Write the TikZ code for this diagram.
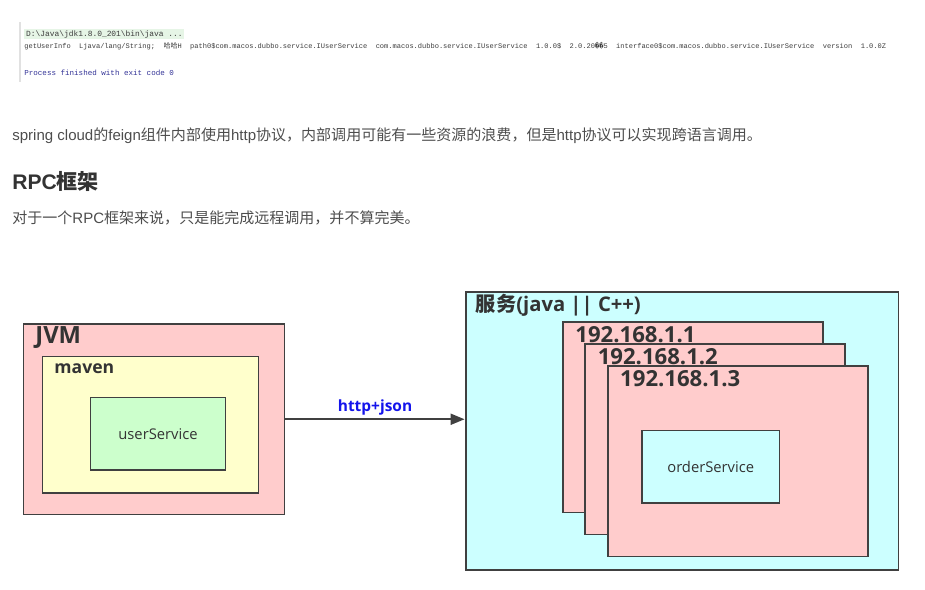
\documentclass[tikz,border=0pt]{standalone}
\usepackage{fontspec}
\setmainfont{Open Sans}
\newfontfamily\cjk{Noto Sans CJK SC}
\newfontfamily\arial{Liberation Sans}
\newfontfamily\cons{Liberation Mono}
\newfontfamily\dvmono{DejaVu Sans Mono}
\newcommand{\zh}[1]{{\cjk #1}}
\usetikzlibrary{positioning,arrows.meta,calc}

\definecolor{boxline}{RGB}{64,64,64}
\definecolor{jvmfill}{RGB}{255,204,204}
\definecolor{mavenfill}{RGB}{255,255,204}
\definecolor{userfill}{RGB}{204,255,204}
\definecolor{svcfill}{RGB}{204,255,255}
\definecolor{labeltext}{RGB}{51,51,51}
\definecolor{linkblue}{RGB}{20,20,235}
\definecolor{bodytext}{RGB}{77,77,77}
\definecolor{consbg}{RGB}{230,245,230}
\definecolor{constext}{RGB}{60,60,60}
\definecolor{procblue}{RGB}{50,50,150}
\definecolor{consrule}{RGB}{225,225,225}

\begin{document}
\begin{tikzpicture}[
  x=0.02cm, y=-0.02cm,
  arr/.style={-{Triangle[length=2.8mm,width=2.2mm]}, line width=1.1pt, draw=boxline},
  box/.style={draw=boxline, line width=1.1pt, inner sep=0pt},
  lbl/.style={font=\bfseries\fontsize{12}{14}\selectfont, text=labeltext, inner sep=0pt, anchor=west},
  svctext/.style={font=\fontsize{8.4}{10}\selectfont, text=labeltext},
  conline/.style={font=\cons\fontsize{4.0}{5}\selectfont, text=constext, inner sep=0pt, anchor=west},
  para/.style={font=\arial\fontsize{8.55}{10}\selectfont, text=bodytext, inner sep=0pt, anchor=west}
]
\useasboundingbox (0,0) rectangle (925,589);

% console output
\draw[consrule, line width=0.6pt] (20,22) -- (20,82);
\node[conline, font=\cons\fontsize{4.5}{5}\selectfont, fill=consbg, inner sep=1pt] (cmd) at (24,34)
  {D:\textbackslash Java\textbackslash jdk1.8.0\_201\textbackslash bin\textbackslash java ...};
\node[conline] (out) at (24,46.5)
  {getUserInfo~~Ljava/lang/String;~~\zh{哈哈}H~~path0\$com.macos.dubbo.service.IUserService~~com.macos.dubbo.service.IUserService~~1.0.0\$~~2.0.20{\dvmono ��}5~~interface0\$com.macos.dubbo.service.IUserService~~version~~1.0.0Z};
\node[conline, text=procblue, font=\cons\fontsize{4.3}{5}\selectfont] (done) at (24,73) {Process finished with exit code 0};

% article text
\node[para] (intro) at (12,136)
  {spring cloud\zh{的}feign\zh{组件内部使用}http\zh{协议，内部调用可能有一些资源的浪费，但是}http\zh{协议可以实现跨语言调用。}};
\node[para, font=\arial\bfseries\fontsize{12}{14}\selectfont, text=labeltext] (title) at (12,181)
  {RPC{\cjk\bfseries 框架}};
\node[para] (note) at (12,218)
  {\zh{对于一个}RPC\zh{框架来说，只是能完成远程调用，并不算完美。}};

% caller side
\node[box, fill=jvmfill, minimum width=5.22cm, minimum height=3.81cm] (jvm) at (154,419.25) {};
\node[lbl, font=\bfseries\fontsize{13.5}{15}\selectfont] (jvmlbl) at ($(jvm.north west)+(12.5,14.5)$) {JVM};
\node[box, fill=mavenfill, minimum width=4.32cm, minimum height=2.73cm] (maven) at (150.5,424.75) {};
\node[lbl, font=\bfseries\fontsize{10}{12}\selectfont] (mavenlbl) at ($(maven.north west)+(12.5,13.5)$) {maven};
\node[box, fill=userfill, minimum width=2.7cm, minimum height=1.45cm, svctext] (user) at (158,433.75) {userService};

% provider side
\node[box, fill=svcfill, minimum width=8.66cm, minimum height=5.56cm] (svc) at (682,431) {};
\node[lbl, font=\bfseries\fontsize{11.5}{13}\selectfont] (svclbl) at ($(svc.north west)+(11,14)$) {\zh{\bfseries 服务}(java || C++)};

\node[box, fill=jvmfill, minimum width=5.2cm, minimum height=3.81cm] (ip1) at (693,417.25) {};
\node[lbl, font=\bfseries\fontsize{12.6}{14}\selectfont] (ip1lbl) at ($(ip1.north west)+(13,14)$) {192.168.1.1};
\node[box, fill=jvmfill, minimum width=5.2cm, minimum height=3.81cm] (ip2) at ($(ip1)+(22.4,22)$) {};
\node[lbl, font=\bfseries\fontsize{12.6}{14}\selectfont] (ip2lbl) at ($(ip2.north west)+(13,14)$) {192.168.1.2};
\node[box, fill=jvmfill, minimum width=5.2cm, minimum height=3.81cm] (ip3) at ($(ip2)+(22.4,22)$) {};
\node[lbl, font=\bfseries\fontsize{12.6}{14}\selectfont] (ip3lbl) at ($(ip3.north west)+(13,14)$) {192.168.1.3};
\node[box, fill=svcfill, minimum width=2.75cm, minimum height=1.45cm, svctext] (order) at (710.75,466.75) {orderService};

% call
\draw[arr] (jvm.east) -- (jvm.east -| svc.west)
  node[midway, above=2pt, font=\bfseries\fontsize{8.8}{10}\selectfont, text=linkblue, inner sep=0pt] (proto) {http+json};

\end{tikzpicture}
\end{document}
